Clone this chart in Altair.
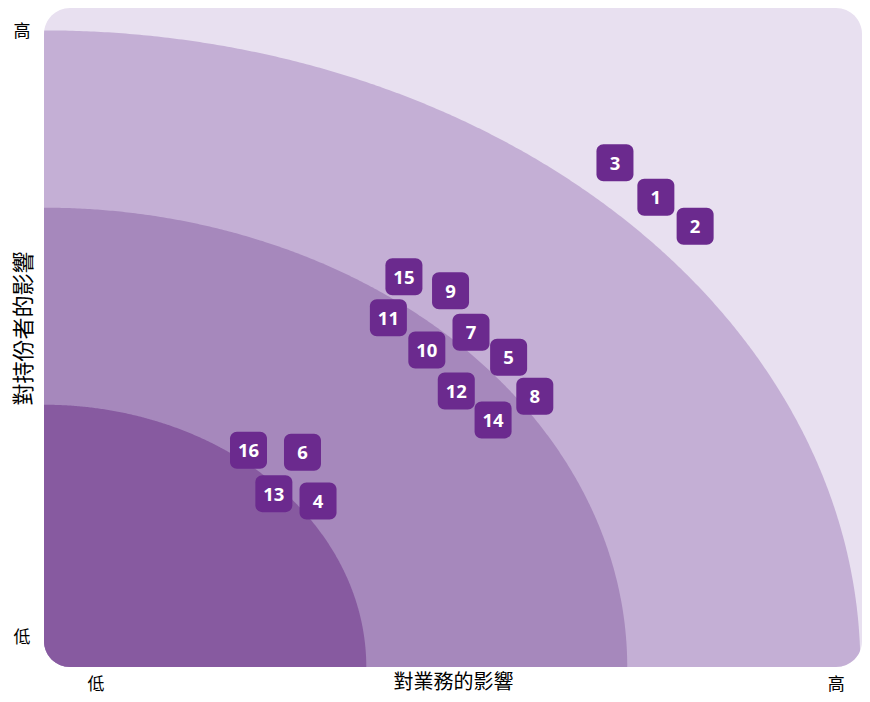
import altair as alt
import pandas as pd

# Topic numbers and positions (impact on business, impact on stakeholders), 0-100 scale
topic_ids = ["1", "2", "3", "4", "5", "6", "7", "8", "9", "10", "11", "12", "13", "14", "15", "16"]
business_impact = [74.8, 79.6, 69.8, 33.5, 56.8, 31.6, 52.2, 60.0, 49.7, 46.8, 42.1, 50.4, 28.1, 54.9, 44.0, 25.0]
stakeholder_impact = [71.3, 66.9, 76.5, 25.2, 47.0, 32.6, 50.8, 41.1, 57.1, 48.1, 53.0, 41.9, 26.3, 37.5, 59.2, 32.9]

# Quarter-ring bands (radius along x, radius along y), outer to inner
band_rx = [99.8, 71.3, 39.4]
band_ry = [96.6, 69.7, 39.8]
band_colors = ["#C4AFD5", "#A688BC", "#875AA0"]

# Axis tick labels
x_tick_values = [6.3, 96.8]
y_tick_values = [4.5, 96.5]
low_label = "低"
high_label = "高"

x_title = "對業務的影響"
y_title = "對持份者的影響"

W, H = 818, 659
CJK = "Noto Sans CJK TC"

points = pd.DataFrame({"id": topic_ids, "x": business_impact, "y": stakeholder_impact})

xscale = alt.Scale(domain=[0, 100], nice=False, zero=False)
yscale = alt.Scale(domain=[0, 100], nice=False, zero=False)

label_expr = f"datum.value < 50 ? '{low_label}' : '{high_label}'"

x_axis = alt.Axis(
    values=x_tick_values, labelExpr=label_expr, title=x_title,
    domain=False, ticks=False, grid=False,
    labelFont=CJK, labelFontSize=17, labelColor="#000000", labelPadding=9,
    labelBaseline="top",
    titleFont=CJK, titleFontSize=20, titleFontWeight="normal", titleColor="#000000",
    titleX=W / 2, titleY=15, titleBaseline="middle", titleAlign="center",
)
y_axis = alt.Axis(
    values=y_tick_values, labelExpr=label_expr, title=y_title,
    domain=False, ticks=False, grid=False,
    labelFont=CJK, labelFontSize=17, labelColor="#000000", labelPadding=14,
    labelBaseline="middle", labelAngle=0,
    titleFont=CJK, titleFontSize=22, titleFontWeight="normal", titleColor="#000000",
    titleX=-21, titleY=320, titleBaseline="middle", titleAlign="center", titleAngle=-90,
)

X = lambda f: alt.X(f, scale=xscale, axis=x_axis)
Y = lambda f: alt.Y(f, scale=yscale, axis=y_axis, stack=None)

layers = []
for rx, ry, col in zip(band_rx, band_ry, band_colors):
    band = (
        alt.Chart(alt.sequence(0, 90.25, 0.25, as_="deg"))
        .transform_calculate(
            bx=f"{rx} * cos(datum.deg * PI / 180)",
            by=f"{ry} * sin(datum.deg * PI / 180)",
        )
        .mark_area(color=col, clip=True, opacity=1)
        .encode(x=X("bx:Q"), y=Y("by:Q"))
    )
    layers.append(band)

boxes = (
    alt.Chart(points)
    .mark_rect(width=37, height=37, cornerRadius=7, color="#6B2A8E")
    .encode(x=X("x:Q"), y=Y("y:Q"))
)
labels = (
    alt.Chart(points)
    .mark_text(font="Noto Sans", fontWeight="bold", fontSize=18.5, color="white", dy=1)
    .encode(x=X("x:Q"), y=Y("y:Q"), text="id:N")
)

chart = (
    alt.layer(*layers, boxes, labels)
    .properties(
        width=W, height=H,
        autosize=alt.AutoSizeParams(type="none"),
        padding={"left": 36, "top": 0, "right": 0, "bottom": 27},
        background="white",
    )
    .configure_view(fill="#E8E0F0", strokeWidth=0, cornerRadius=26)
)

chart.save("out.html", embed_options={"renderer": "svg", "actions": False})
